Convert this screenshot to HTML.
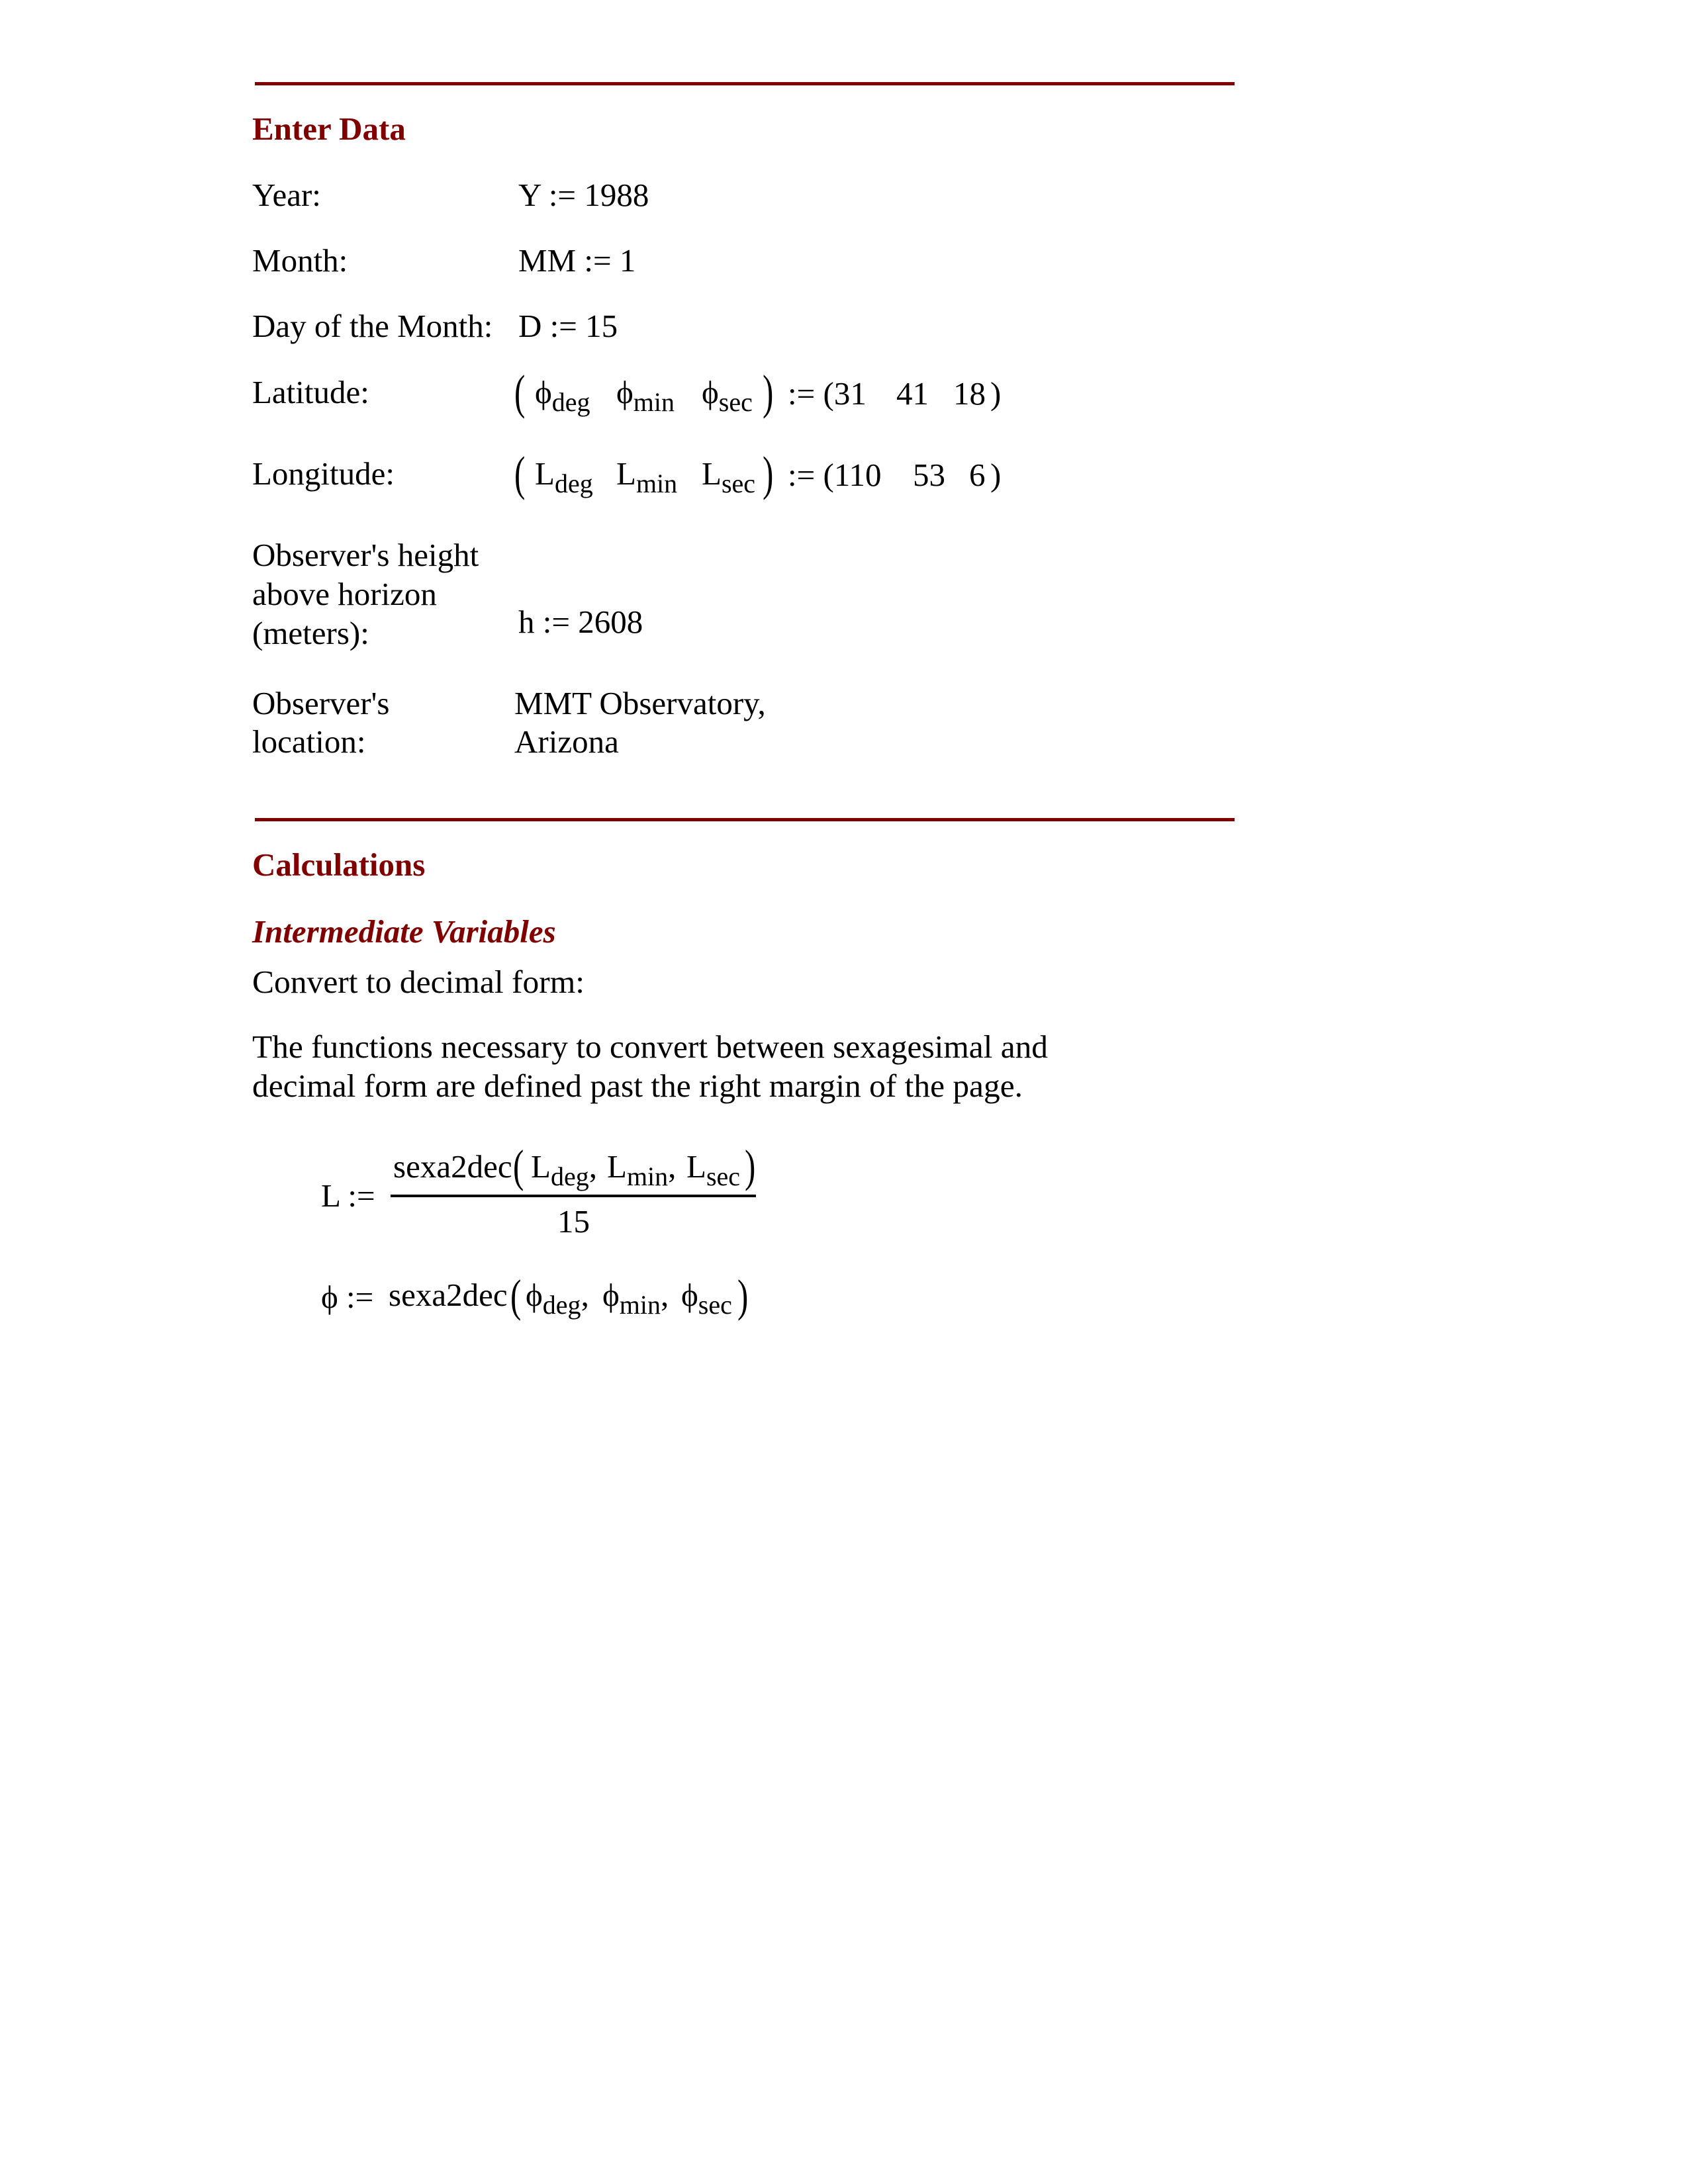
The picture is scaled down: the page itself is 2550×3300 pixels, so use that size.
<!DOCTYPE html>
<html><head><meta charset="utf-8"><style>
html,body{margin:0;padding:0;background:#fff;}
svg{display:block;}
text{font-family:"Liberation Serif",serif;font-size:49px;fill:#000;}
.h{font-weight:bold;fill:#800000;}
.hi{font-weight:bold;font-style:italic;fill:#800000;}
.s{font-size:40px;}
</style></head><body>
<svg width="2550" height="3300" viewBox="0 0 2550 3300" xmlns="http://www.w3.org/2000/svg">
<g transform="translate(0 3)">
<rect x="385" y="121" width="1480" height="5" fill="#800000"/>
<text class="h" x="381" y="208">Enter Data</text>
<text x="381" y="308">Year:</text><text x="783" y="308">Y := 1988</text>
<text x="381" y="407">Month:</text><text x="783" y="407">MM := 1</text>
<text x="381" y="506">Day of the Month:</text><text x="783" y="506">D := 15</text>

<text x="381" y="606">Latitude:</text>
<text x="777" y="614" transform="translate(777 614) scale(1 1.5) translate(-777 -614)">(</text>
<text x="808" y="606">ϕ<tspan class="s" dy="12">deg</tspan></text>
<text x="931" y="606">ϕ<tspan class="s" dy="12">min</tspan></text>
<text x="1060" y="606">ϕ<tspan class="s" dy="12">sec</tspan></text>
<text x="1152" y="614" transform="translate(1152 614) scale(1 1.5) translate(-1152 -614)">)</text>
<text x="1190" y="608">:= (31</text>
<text x="1354" y="608">41</text>
<text x="1440" y="608">18</text>
<text x="1496" y="608">)</text>

<text x="381" y="729">Longitude:</text>
<text x="777" y="737" transform="translate(777 737) scale(1 1.5) translate(-777 -737)">(</text>
<text x="808" y="729">L<tspan class="s" dy="12">deg</tspan></text>
<text x="931" y="729">L<tspan class="s" dy="12">min</tspan></text>
<text x="1060" y="729">L<tspan class="s" dy="12">sec</tspan></text>
<text x="1152" y="737" transform="translate(1152 737) scale(1 1.5) translate(-1152 -737)">)</text>
<text x="1190" y="731">:= (110</text>
<text x="1379" y="731">53</text>
<text x="1464" y="731">6</text>
<text x="1496" y="731">)</text>

<text x="381" y="852">Observer's height</text>
<text x="381" y="911">above horizon</text>
<text x="381" y="970">(meters):</text>
<text x="783" y="953">h := 2608</text>

<text x="381" y="1076">Observer's</text>
<text x="381" y="1134">location:</text>
<text x="777" y="1076">MMT Observatory,</text>
<text x="777" y="1134">Arizona</text>

<rect x="385" y="1233" width="1480" height="5" fill="#800000"/>
<text class="h" x="381" y="1320">Calculations</text>
<text class="hi" x="381" y="1421">Intermediate Variables</text>
<text x="381" y="1497" textLength="502" lengthAdjust="spacingAndGlyphs">Convert to decimal form:</text>
<text x="381" y="1595" textLength="1202" lengthAdjust="spacingAndGlyphs">The functions necessary to convert between sexagesimal and</text>
<text x="381" y="1654" textLength="1164" lengthAdjust="spacingAndGlyphs">decimal form are defined past the right margin of the page.</text>

<text x="485" y="1820">L :=</text>
<text x="594" y="1776">sexa2dec</text>
<text x="775" y="1782" transform="translate(775 1782) scale(1 1.4) translate(-775 -1782)">(</text>
<text x="802" y="1776">L<tspan class="s" dy="12">deg</tspan><tspan dy="-12">,</tspan></text>
<text x="917" y="1776">L<tspan class="s" dy="12">min</tspan><tspan dy="-12">,</tspan></text>
<text x="1037" y="1776">L<tspan class="s" dy="12">sec</tspan></text>
<text x="1125" y="1782" transform="translate(1125 1782) scale(1 1.4) translate(-1125 -1782)">)</text>
<rect x="590" y="1802" width="552" height="4" fill="#000"/>
<text x="842" y="1859">15</text>

<text x="485" y="1973">ϕ :=</text>
<text x="587" y="1970">sexa2dec</text>
<text x="771" y="1978" transform="translate(771 1978) scale(1 1.4) translate(-771 -1978)">(</text>
<text x="794" y="1970">ϕ<tspan class="s" dy="12">deg</tspan><tspan dy="-12">,</tspan></text>
<text x="910" y="1970">ϕ<tspan class="s" dy="12">min</tspan><tspan dy="-12">,</tspan></text>
<text x="1029" y="1970">ϕ<tspan class="s" dy="12">sec</tspan></text>
<text x="1114" y="1978" transform="translate(1114 1978) scale(1 1.4) translate(-1114 -1978)">)</text>
</g>
</svg>
</body></html>
